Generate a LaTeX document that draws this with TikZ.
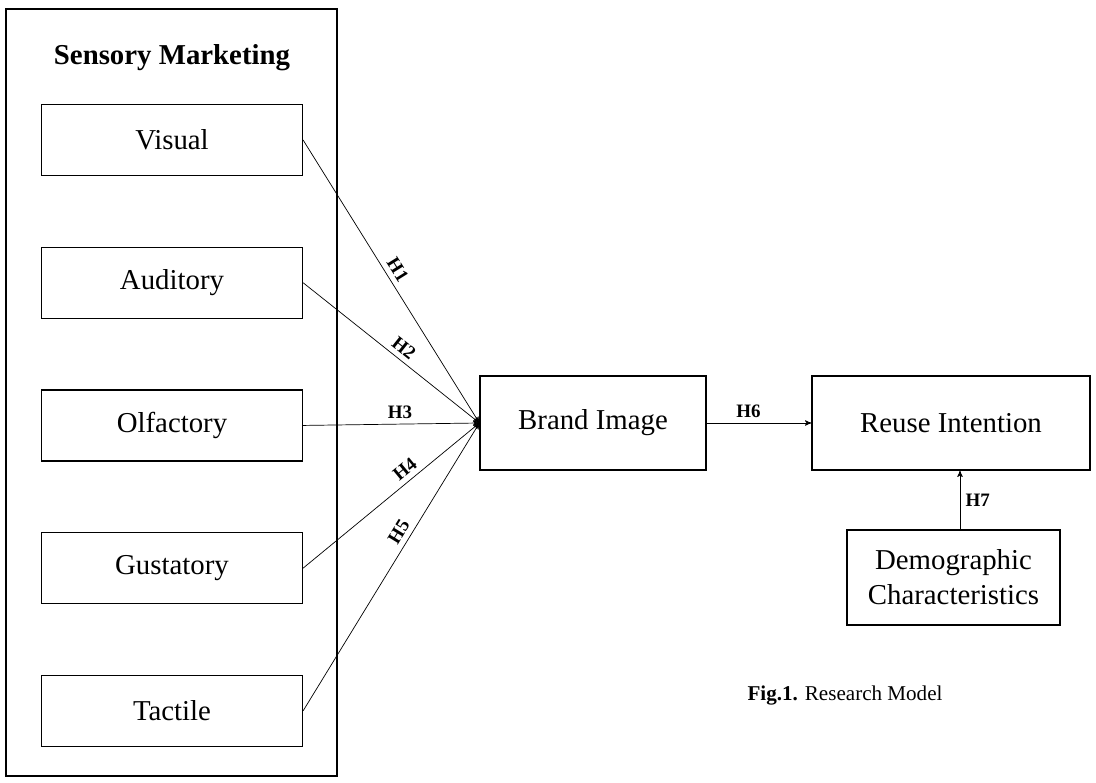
\documentclass[tikz,border=0pt]{standalone}
\usepackage{fontspec}
\setmainfont{Liberation Serif}
\usetikzlibrary{arrows,positioning}

\begin{document}
\begin{tikzpicture}[x=0.02cm, y=-0.02cm, ->, >=stealth', thin, node distance=2.855cm]
\tikzstyle{every node}=[font=\fontsize{16.4}{19}\selectfont]
\tikzstyle{sense}=[draw, line width=0.7pt, minimum width=5.22cm, minimum height=1.42cm]
\tikzstyle{block}=[draw, line width=0.7pt, minimum height=1.88cm]
\tikzstyle{hyp}=[font=\fontsize{10.8}{12}\selectfont\bfseries, inner sep=3pt]
\useasboundingbox (0,0) rectangle (1096,783);

% sensory marketing group
\draw[-, line width=0.6pt] (6,9) rectangle (337,776);
\node (title) at (172,58) {\bfseries Sensory Marketing};
\node[sense]    (visual)    at (172,140)        {Visual};
\node[sense]    (auditory)  [below of=visual]   {Auditory};
\node[sense]    (olfactory) [below of=auditory] {Olfactory};
\node[sense]    (gustatory) [below of=olfactory]{Gustatory};
\node[sense]    (tactile)   [below of=gustatory]{Tactile};

\node[block, minimum width=4.52cm] (brand) at (593,423)  {Brand Image};
\node[block, minimum width=5.56cm] (reuse) at (951,423)  {Reuse Intention};
\node[block, minimum width=4.26cm, minimum height=1.9cm, align=center,
      font=\fontsize{16.4}{20}\selectfont] (demog) at (953.5,577.5)
      {Demographic\\Characteristics};

\path
(visual.east)    edge node[hyp, sloped, above, pos=0.48] {H1} (brand.west)
(auditory.east)  edge node[hyp, sloped, above, pos=0.53] {H2} (brand.west)
(olfactory.east) edge node[hyp, above, pos=0.55]         {H3} (brand.west)
(gustatory.east) edge node[hyp, sloped, above, pos=0.62] {H4} (brand.west)
(tactile.east)   edge node[hyp, sloped, above, pos=0.6]  {H5} (brand.west)
(brand)          edge node[hyp, above, pos=0.4]          {H6} (reuse);

\draw ([xshift=0.13cm]demog.north) -- node[hyp, right] {H7}
      ([xshift=0.13cm]demog.north |- reuse.south);

\node (caption) at (845,696) {\fontsize{12}{14}\selectfont\textbf{Fig.1.} Research Model};
\end{tikzpicture}
\end{document}
